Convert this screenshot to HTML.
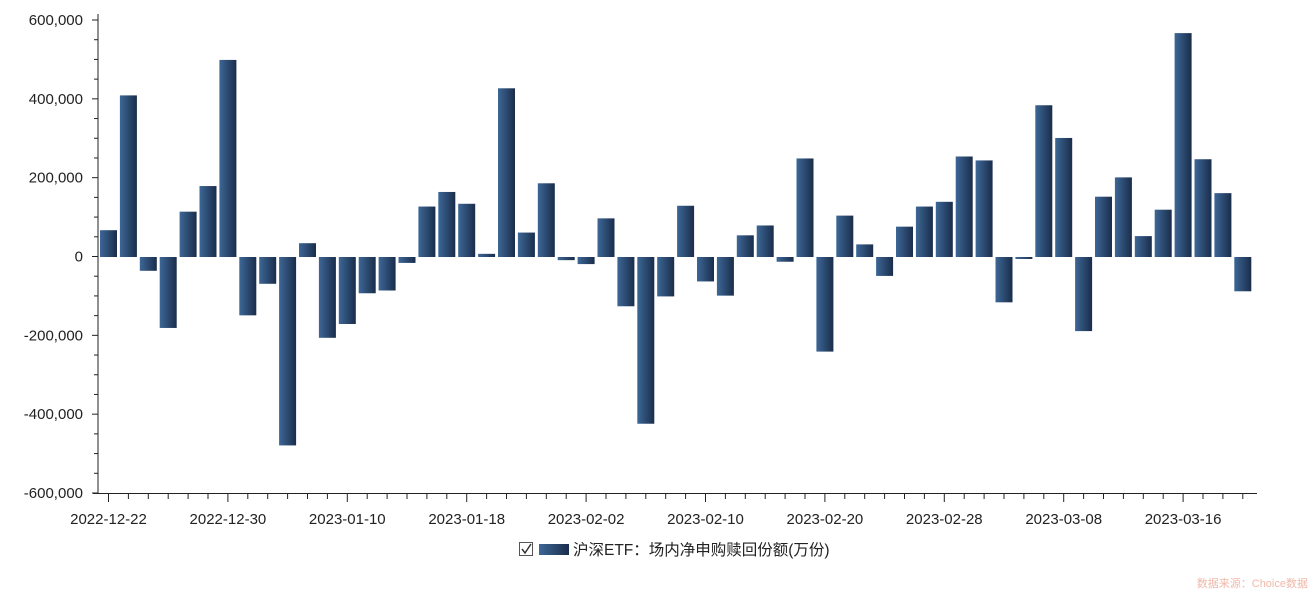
<!DOCTYPE html><html><head><meta charset="utf-8"><style>body{margin:0;background:#fff}svg text{font-family:"Liberation Sans","Noto Sans CJK SC",sans-serif;fill:#222}</style></head><body>
<svg id="s" width="1312" height="591" xmlns="http://www.w3.org/2000/svg">
<defs><linearGradient id="g" x1="0" x2="1" y1="0" y2="0"><stop offset="0" stop-color="#3d6796"/><stop offset="1" stop-color="#1a2d4b"/></linearGradient></defs>
<g id="c"></g>
<text x="1308" y="587" text-anchor="end" font-size="11" style="fill:#f0b8a8">数据来源：Choice数据</text>
</svg>
<script>
const v=[68,410,-35,-180,115,180,500,-148,-68,-478,35,-205,-170,-92,-85,-15,128,165,135,8,428,62,187,-8,-18,98,-125,-423,-100,130,-62,-98,55,80,-12,250,-240,105,32,-48,77,128,140,255,245,-115,-5,385,302,-188,153,202,53,120,568,248,162,-87];
const k=236.5/600;let h='';const z=257;
v.forEach((d,i)=>{const x=100+i*19.9,hh=Math.abs(d)*k;h+=`<rect x="${x}" y="${d>0?z-hh:z}" width="17" height="${hh}" fill="url(#g)"/>`;});
h+='<line x1="98" y1="14" x2="98" y2="493" stroke="#222"/><line x1="93" y1="493.5" x2="1257" y2="493.5" stroke="#222"/>';
for(let j=0;j<=24;j++){const y=20+j*473/24;const maj=j%4==0;h+=`<line x1="${maj?92:94}" x2="98" y1="${y}" y2="${y}" stroke="#222"/>`;if(maj){const val=600-j*50;h+=`<text x="83" y="${y+5}" text-anchor="end" font-size="15">${val==0?'0':(val<0?'-':'')+Math.abs(val)+',000'}</text>`;}}
const L=['2022-12-22','2022-12-30','2023-01-10','2023-01-18','2023-02-02','2023-02-10','2023-02-20','2023-02-28','2023-03-08','2023-03-16'];
for(let i=0;i<58;i++){const x=108.5+i*19.9;const maj=i%6==0;h+=`<line x1="${x}" x2="${x}" y1="493" y2="${maj?502:499}" stroke="#222"/>`;if(maj)h+=`<text x="${x}" y="524" text-anchor="middle" font-size="15">${L[i/6]}</text>`;}
h+='<rect x="519.5" y="542.5" width="13" height="13" fill="#fff" stroke="#555"/><path d="M522 549l3 4 6-9" stroke="#333" fill="none" stroke-width="1.5"/><rect x="539" y="544" width="30" height="11" fill="url(#g)"/><text x="573" y="555" font-size="15.5">沪深ETF：场内净申购赎回份额(万份)</text>';
document.getElementById('c').innerHTML=h;
</script></body></html>
